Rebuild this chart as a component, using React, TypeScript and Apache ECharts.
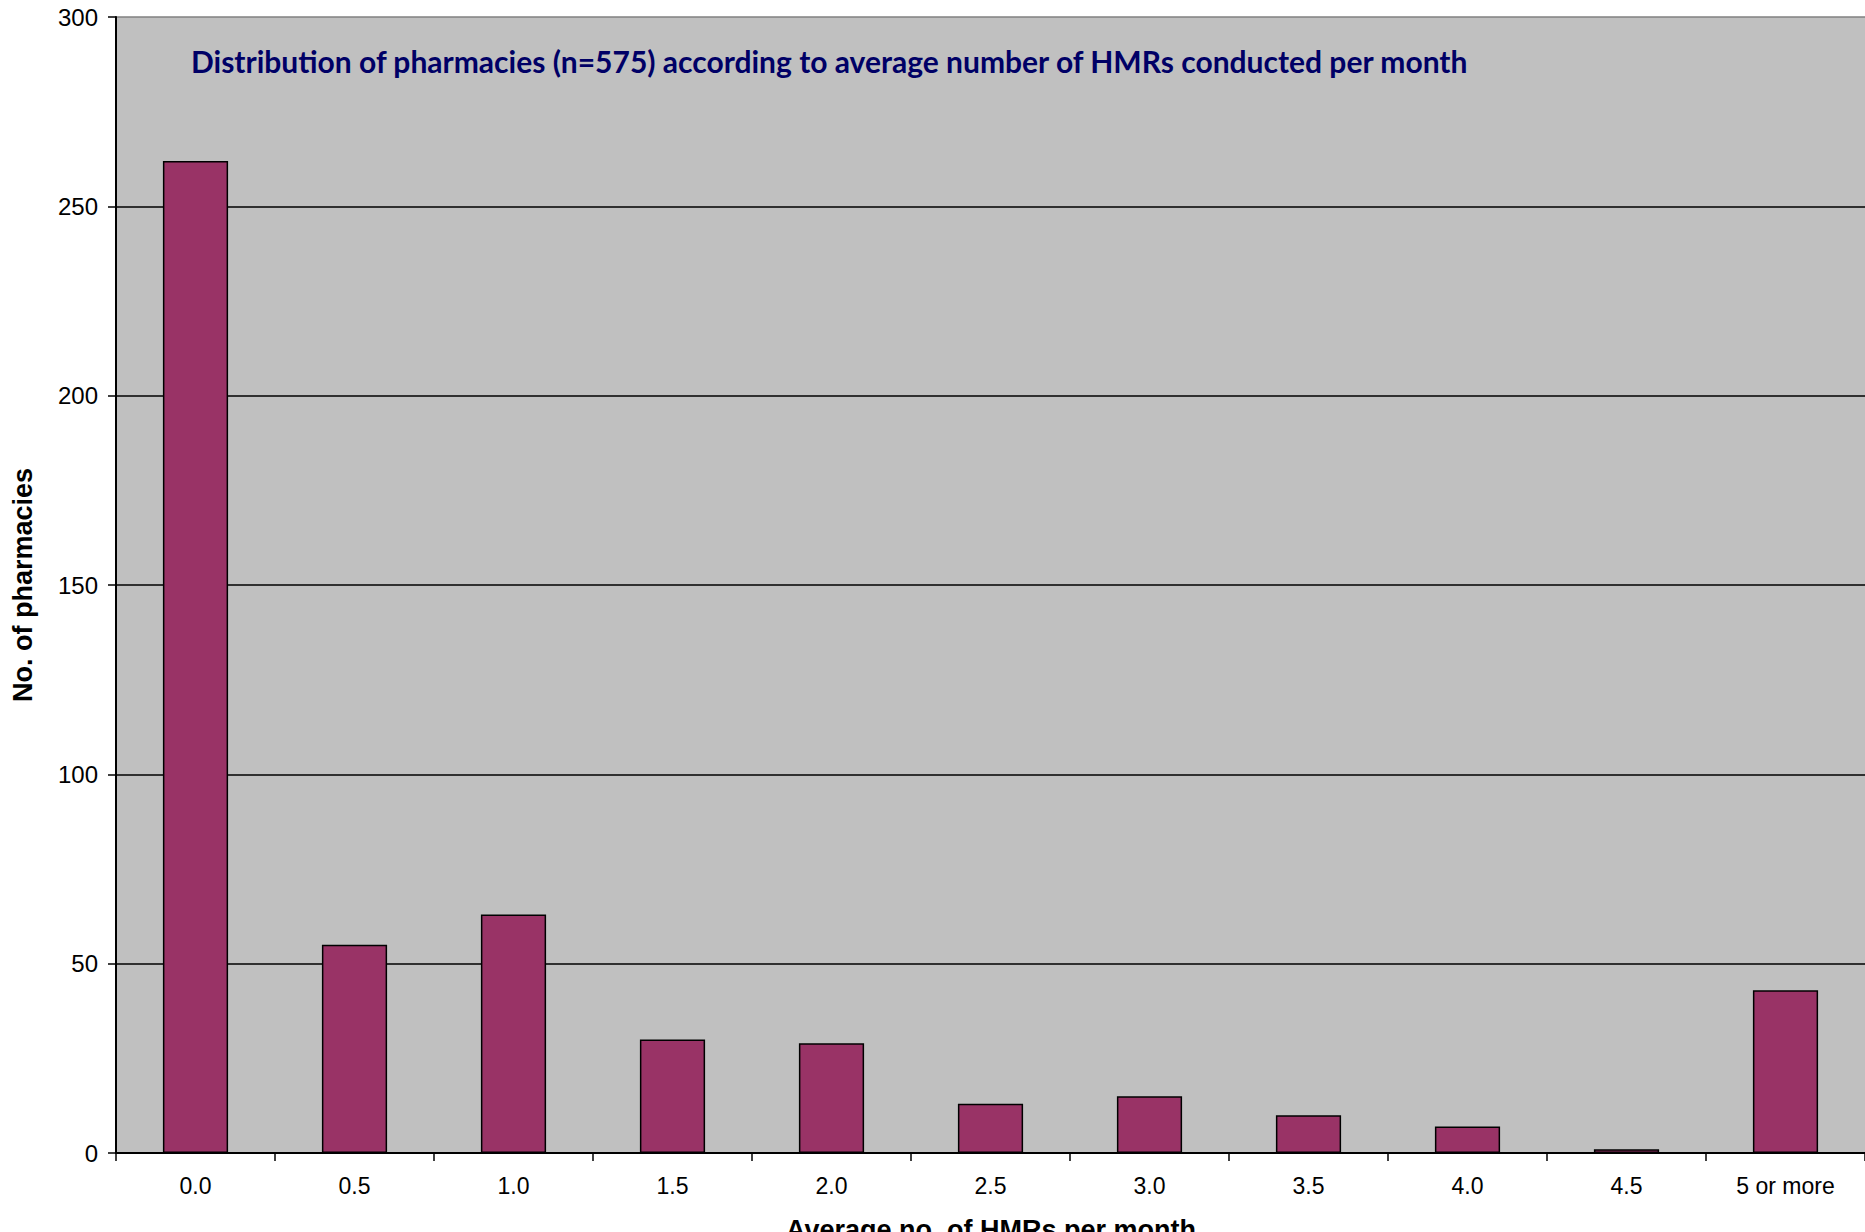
import React, { useEffect, useRef } from "react";
import * as echarts from "echarts";

const categories = ["0.0", "0.5", "1.0", "1.5", "2.0", "2.5", "3.0", "3.5", "4.0", "4.5", "5 or more"];
const pharmacies = [262, 55, 63, 30, 29, 13, 15, 10, 7, 1, 43];
const yTicks = { min: 0, max: 300, interval: 50 };
const titleText = "Distribution of pharmacies (n=575) according to average number of HMRs conducted per month";
const yName = "No. of pharmacies";
const xName = "Average no. of HMRs per month";

export default function App() {
  const ref = useRef<HTMLDivElement>(null);
  useEffect(() => {
    if (!ref.current) return;
    const chart = echarts.init(ref.current, null, { renderer: "svg" });
    const font = "Arial, 'Liberation Sans', sans-serif";
    chart.setOption({
      animation: false,
      backgroundColor: "#ffffff",
      grid: {
        left: 116,
        top: 17,
        width: 1750,
        height: 1136,
        show: true,
        backgroundColor: "#C0C0C0",
        borderWidth: 0,
        containLabel: false,
      },
      graphic: [
        {
          type: "text",
          x: 191,
          y: 46,
          style: {
            text: titleText,
            fill: "#000066",
            font: "bold 30px Lato, 'Open Sans', sans-serif",
            textVerticalAlign: "top",
          },
        },
        {
          type: "text",
          x: 991,
          y: 1216,
          style: {
            text: xName,
            fill: "#000",
            font: "bold 27px Arial, 'Liberation Sans', sans-serif",
            textAlign: "center",
            textVerticalAlign: "top",
          },
        },
      ],
      xAxis: {
        type: "category",
        data: categories,
        boundaryGap: true,
        axisLine: { show: true, lineStyle: { color: "#000", width: 2 } },
        axisTick: { show: true, length: 8, lineStyle: { color: "#000", width: 1.5 } },
        axisLabel: { color: "#000", fontSize: 23, fontFamily: font, margin: 21, interval: 0 },
        splitLine: { show: false },
      },
      yAxis: {
        type: "value",
        min: yTicks.min,
        max: yTicks.max,
        interval: yTicks.interval,
        name: yName,
        nameLocation: "middle",
        nameRotate: 90,
        nameGap: 80,
        nameTextStyle: { color: "#000", fontSize: 27, fontWeight: "bold", fontFamily: font },
        axisLine: { show: true, lineStyle: { color: "#000", width: 2 } },
        axisTick: { show: true, length: 8, lineStyle: { color: "#000", width: 1.5 } },
        axisLabel: { color: "#000", fontSize: 24, fontFamily: font, margin: 18 },
        splitLine: {
          show: true,
          lineStyle: { color: ["#000", "#000", "#000", "#000", "#000", "#000", "#808080"], width: 1.5 },
        },
      },
      series: [
        {
          type: "bar",
          data: pharmacies,
          barWidth: "41%",
          itemStyle: { color: "#993366", borderColor: "#000", borderWidth: 1.5 },
        },
      ],
    });
    return () => chart.dispose();
  }, []);
  return (
    <div
      ref={ref}
      style={{ position: "fixed", left: 0, top: 0, width: 1865, height: 1232 }}
    />
  );
}
